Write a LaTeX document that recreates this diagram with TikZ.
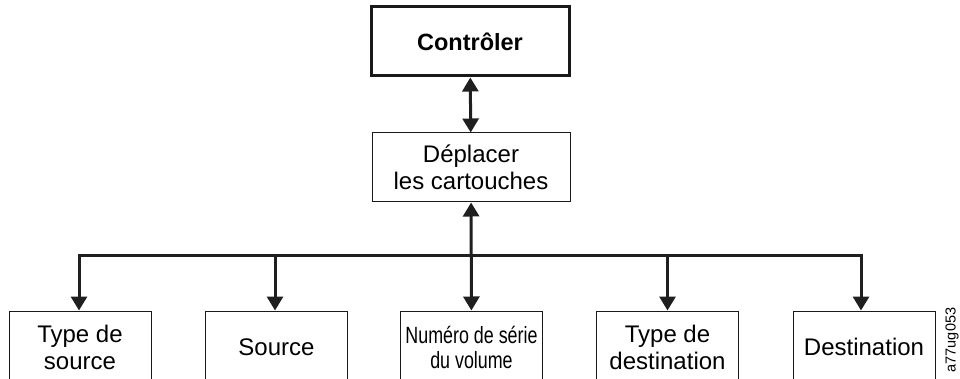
\documentclass[tikz,border=0pt]{standalone}
\usepackage{fontspec}
\setmainfont{Liberation Sans}
\newfontfamily\condfont[FakeStretch=0.76]{Liberation Sans}
\usetikzlibrary{arrows.meta}
\tikzset{
  box/.style={draw=black!90, line width=1pt, minimum width=198pt, minimum height=69pt, inner sep=0pt, align=center, font=\fontsize{24}{27}\selectfont},
  topbox/.style={box, line width=3pt, font=\fontsize{23.5}{27}\selectfont\bfseries},
  leafbox/.style={box, minimum width=142pt, minimum height=72pt},
  conn/.style={line width=3pt, draw=black!88, -{Triangle[length=14pt,width=16pt]}},
  dconn/.style={line width=3pt, draw=black!88, {Triangle[length=14pt,width=16pt]}-{Triangle[length=14pt,width=16pt]}}
}
\begin{document}
\begin{tikzpicture}[x=1pt,y=-1pt]
\useasboundingbox (0,0) rectangle (960,379);
\clip (0,0) rectangle (960,379);
\node[topbox] (ctl) at (470,41.5) {Contrôler};
\node[box] (dep) at (471,167.5) {Déplacer\\les cartouches};
\node[leafbox] (b1) at (80,347) {Type de\\source};
\node[leafbox] (b2) at (276.5,347) {Source};
\node[leafbox, font=\fontsize{23.5}{25}\selectfont\condfont] (b3) at (471.5,347) {Numéro de série\\du volume};
\node[leafbox] (b4) at (667.5,347) {Type de\\destination};
\node[leafbox] (b5) at (864,347) {Destination};
\coordinate (j) at (471,255);
\draw[dconn] (ctl) -- (dep);
\draw[dconn] (dep) -- (b3);
\draw[conn] (j) -| ([xshift=-1pt]b1.north);
\draw[conn] (j) -| ([xshift=-1.5pt]b2.north);
\draw[conn] (j) -| (b4.north);
\draw[conn] (j) -| ([xshift=-3pt]b5.north);
\node[rotate=90, font=\fontsize{14.5}{16}\selectfont] (lbl) at (952,340) {a77ug053};
\end{tikzpicture}
\end{document}
